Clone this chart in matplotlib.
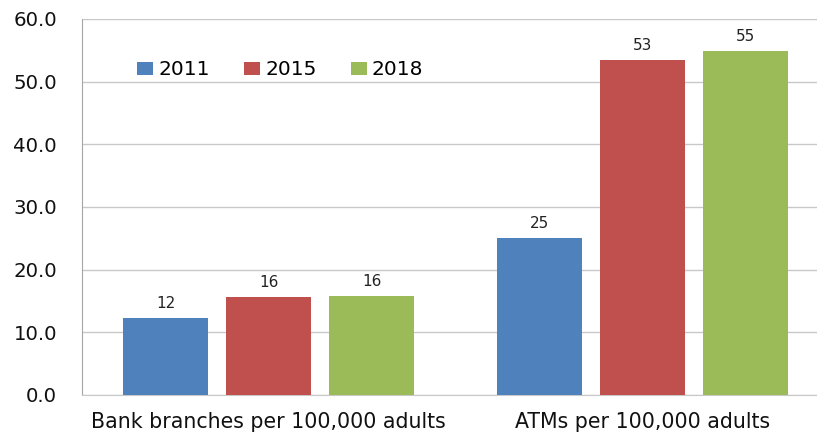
import numpy as np
import matplotlib.pyplot as plt

categories = ["Bank branches per 100,000 adults", "ATMs per 100,000 adults"]
years = ["2011", "2015", "2018"]
values_2011 = [12.3, 25.1]
values_2015 = [15.6, 53.4]
values_2018 = [15.8, 54.9]
y_ticks = [0, 10, 20, 30, 40, 50, 60]

colors = ["#4F81BD", "#C0504D", "#9BBB59"]

plt.rcParams["font.family"] = ["DejaVu Sans"]

fig = plt.figure(figsize=(8.17, 4.32), dpi=100)
ax = fig.add_axes([82 / 817, 1 - 395 / 432, 1 - 82 / 817, (395 - 19) / 432])

x = np.arange(len(categories))
step = 0.276
width = 0.228
series = [values_2011, values_2015, values_2018]
for i, (year, vals, color) in enumerate(zip(years, series, colors)):
    pos = x + (i - 1) * step
    bars = ax.bar(pos, vals, width=width, color=color, label=year, zorder=3)
    for rect, v in zip(bars, vals):
        ax.text(rect.get_x() + rect.get_width() / 2, v + 1.1, f"{v:.0f}",
                ha="center", va="bottom", fontsize=11, color="#222222")

ax.set_xlim(-0.5, 1.468)
ax.set_ylim(0, 60)
ax.set_yticks(y_ticks)
ax.set_yticklabels([f"{t:.1f}" for t in y_ticks], fontsize=14.2)
ax.set_xticks(x)
ax.set_xticklabels(categories, fontsize=14.8)
ax.tick_params(axis="both", length=0, colors="#111111")
ax.tick_params(axis="y", pad=18)
ax.tick_params(axis="x", pad=12)

ax.grid(axis="y", color="#C8C8C8", linewidth=1, zorder=0)
for side in ["top", "right"]:
    ax.spines[side].set_visible(False)
ax.spines["left"].set_color("#A6A6A6")
ax.spines["bottom"].set_color("#C8C8C8")

ax.legend(loc="center left", bbox_to_anchor=(0.0748, 0.865), ncol=3, frameon=False,
          fontsize=14.5, handlelength=0.8, handleheight=0.6, handletextpad=0.25,
          columnspacing=1.7, borderaxespad=0, borderpad=0)

fig.savefig("out.png", dpi=100)
